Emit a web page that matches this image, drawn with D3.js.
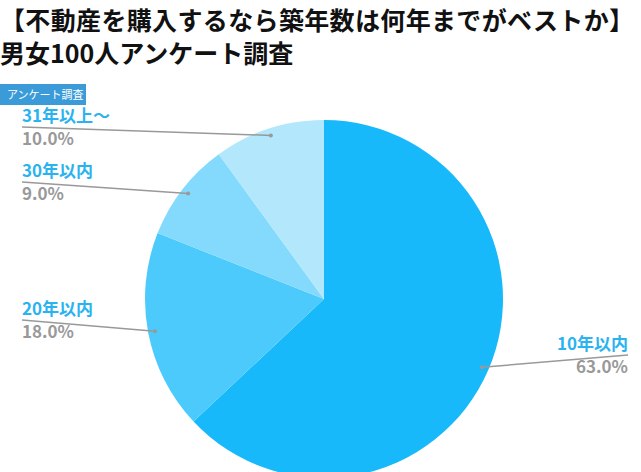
<!DOCTYPE html><html><head><meta charset="utf-8"><script src="https://cdn.jsdelivr.net/npm/d3@7"></script>
<style>body{margin:0;background:#fff}text{font-family:"Noto Sans CJK JP","Noto Sans",sans-serif}</style></head><body><svg id="c" width="641" height="472"></svg><script>
const categories=["10年以内","20年以内","30年以内","31年以上〜"];
const values=[63,18,9,10];
const colors=["#18b9fb","#4ccafb","#84dafc","#b2e7fc"];
const svg=d3.select("#c");
const cx=324,cy=299,R=179;
svg.append("text").attr("x",0).attr("y",30).attr("font-size",25).attr("font-weight",700).attr("fill","#111").attr("textLength",634).text("【不動産を購入するなら築年数は何年までがベストか】");
svg.append("text").attr("x",0).attr("y",63).attr("font-size",25).attr("font-weight",700).attr("fill","#111").text("男女100人アンケート調査");
const pie=d3.pie().sort(null).value(d=>d)(values);
const arc=d3.arc().innerRadius(0).outerRadius(R);
const lab=d3.arc().innerRadius(172).outerRadius(172);
const g=svg.append("g").attr("transform",`translate(${cx},${cy})`);
g.selectAll("path").data(pie).join("path").attr("d",arc).attr("fill",(d,i)=>colors[i]);
svg.append("rect").attr("x",0).attr("y",84).attr("width",86).attr("height",21).attr("fill","#3a9bd8");
svg.append("text").attr("x",7).attr("y",99).attr("font-size",11).attr("fill","#fff").text("アンケート調査");
const ly=[null,320,182,127];
pie.forEach((d,i)=>{
  const [px,py]=lab.centroid(d);const x=px+cx,y=py+cy;
  const right=i===0;
  const yy=right?355:ly[i];
  const x1=right?628:22;
  svg.append("line").attr("x1",x1).attr("y1",yy).attr("x2",x).attr("y2",y).attr("stroke","#999").attr("stroke-width",1.5);
  svg.append("circle").attr("cx",x).attr("cy",y).attr("r",2).attr("fill","#999");
  const anchor=right?"end":"start";
  svg.append("text").attr("x",x1).attr("y",yy-5).attr("text-anchor",anchor).attr("font-size",17).attr("font-weight",700).attr("fill","#2ab3ef").text(categories[i]);
  svg.append("text").attr("x",x1).attr("y",yy+18).attr("text-anchor",anchor).attr("font-size",17).attr("font-weight",700).attr("fill","#999").text(values[i].toFixed(1)+"%");
});
</script></body></html>
